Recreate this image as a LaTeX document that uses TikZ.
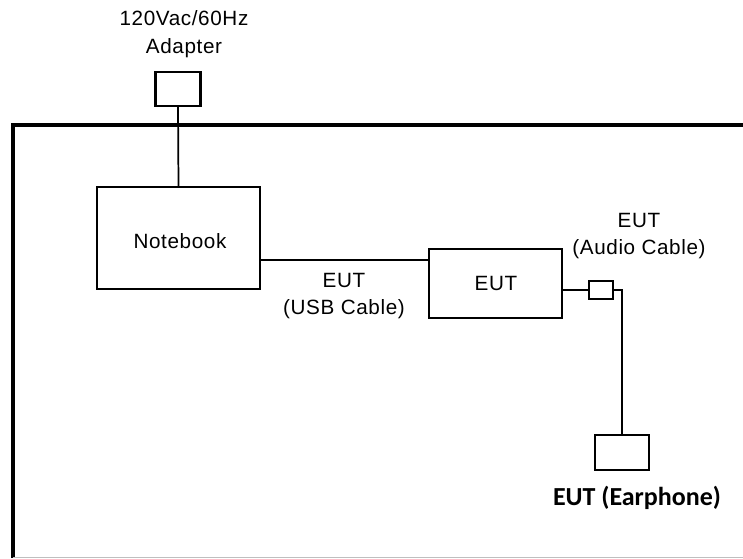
\documentclass[tikz,border=0pt]{standalone}
\usepackage{fontspec}
\setmainfont[LetterSpace=3]{Liberation Sans}
\newfontfamily\calfont{Carlito}
\begin{document}
\begin{tikzpicture}[x=0.75pt,y=-0.75pt,
  unit/.style={draw,line width=1.6pt,inner sep=0pt},
  lbl/.style={font=\fontsize{15.5}{20.5}\selectfont,align=center,inner sep=0pt},
  wire/.style={line width=1.3pt}]
\useasboundingbox (0,0) rectangle (743,558);
% test frame
\draw [line width=3pt] (13,558) --(13,125) --(743,125);
\draw [black!25] (13,557) --(743,557);
% units
\node [unit,minimum width=33.8pt,minimum height=25.5pt] (adapter) at (178,89) {};
\node [unit,minimum width=122.3pt,minimum height=76.5pt] (notebook) at (178.5,238) {};
\node [unit,minimum width=99.8pt,minimum height=51.8pt] (eut) at (495.5,283.5) {};
\node [unit,minimum width=18pt,minimum height=13.5pt] (plug) at (601,290) {};
\node [unit,minimum width=40.5pt,minimum height=26.3pt] (earphone) at (622,452.5) {};
\node [lbl] (nbtext) at (180,241) {Notebook};
\node [lbl] (euttext) at (496,283) {EUT};
% labels
\node [lbl] (adaptertext) at (184,34) {120Vac/60Hz\\Adapter};
\node [lbl] (usbtext) at (344,296) {EUT\\(USB Cable)};
\node [lbl] (audiotext) at (639,236) {EUT\\(Audio Cable)};
\node [font=\calfont\bfseries\fontsize{19.5}{22}\selectfont,inner sep=0pt] (eartext) at (637,498) {EUT (Earphone)};
% cables
\coordinate (usb) at (260,260);
\draw [wire] (adapter.south) --(notebook.north);
\draw [wire] (notebook.east |- usb) --(eut.west |- usb);
\draw [wire] (eut.east |- plug) --(plug.west);
\draw [wire] (plug.east) -| (earphone.north);
\end{tikzpicture}
\end{document}
